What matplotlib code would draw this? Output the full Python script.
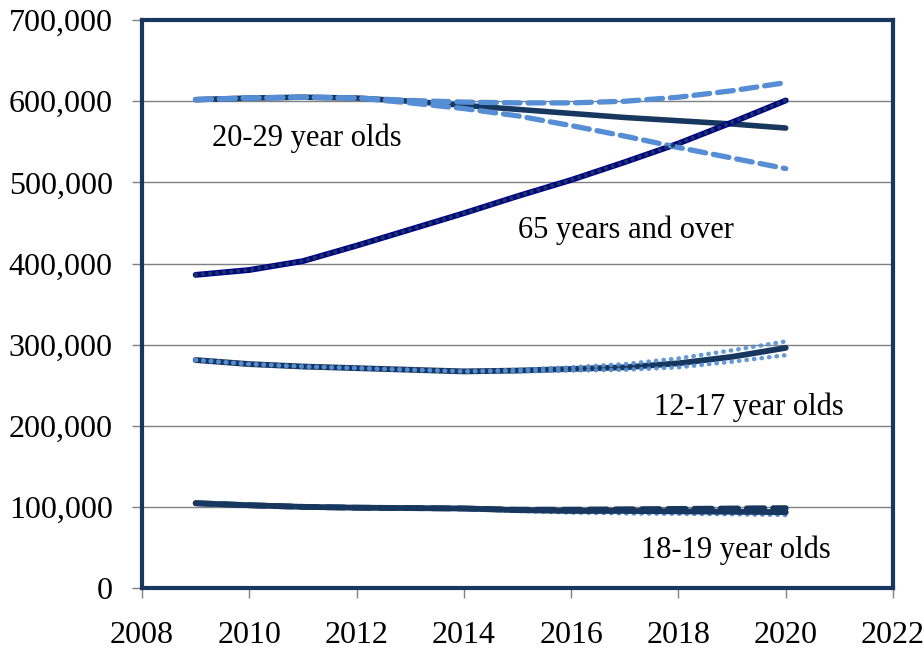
import matplotlib
matplotlib.use("Agg")
import matplotlib.pyplot as plt
from matplotlib.ticker import FuncFormatter

years = [2009, 2010, 2011, 2012, 2013, 2014, 2015, 2016, 2017, 2018, 2019, 2020]

age20_29 = [602000, 604000, 605000, 604000, 600000, 595000, 590000, 585000, 580000, 576000, 572000, 567000]
age20_29_high = [602000, 604000, 605000, 604000, 601000, 599000, 598000, 598000, 600000, 605000, 613000, 623000]
age20_29_low = [602000, 604000, 605000, 604000, 598000, 591000, 582000, 570000, 557000, 543000, 530000, 517000]

age65 = [386000, 392000, 403000, 422000, 442000, 462000, 483000, 503000, 525000, 548000, 574000, 601000]

age12_17 = [281000, 276000, 273000, 271000, 269000, 267000, 268000, 270000, 272000, 277000, 285000, 296000]
age12_17_high = [281000, 276000, 273000, 271000, 269000, 267000, 269000, 272000, 276000, 283000, 293000, 304000]
age12_17_low = [281000, 276000, 273000, 271000, 269000, 267000, 267000, 268000, 269000, 272000, 279000, 287000]

age18_19 = [104500, 102000, 100000, 99000, 98500, 98000, 96000, 95000, 95000, 94500, 94000, 93500]
age18_19_high = [104500, 102000, 100000, 99000, 98500, 98000, 96500, 96500, 97000, 97500, 98000, 98500]
age18_19_low = [104500, 102000, 100000, 99000, 98500, 97500, 95000, 93000, 92000, 91500, 91000, 90000]

labels = ["20-29 year olds", "65 years and over", "12-17 year olds", "18-19 year olds"]
label_pos = [(2009.3, 555000), (2015.0, 441000), (2017.55, 223000), (2017.3, 47000)]

dark = "#17375E"
light = "#558ED5"
navy = "#00008B"

fig = plt.figure(figsize=(9.24, 6.5), dpi=100)
ax = fig.add_axes([0.1537, 0.0954, 0.8128, 0.8736])

ax.set_xlim(2008, 2022)
ax.set_ylim(0, 700000)
ax.set_xticks(range(2008, 2023, 2))
ax.set_yticks(range(0, 700001, 100000))
ax.yaxis.set_major_formatter(FuncFormatter(lambda v, p: f"{int(v):,}"))
ax.grid(axis="y", color="#808080", linewidth=1.0)
ax.set_axisbelow(True)

# 20-29
ax.plot(years, age20_29, color=dark, lw=4, solid_capstyle="round", zorder=3)
ax.plot(years, age20_29_high, color=light, lw=3.8, ls=(0, (3, 1.5)), dash_capstyle="round", zorder=4)
ax.plot(years, age20_29_low, color=light, lw=3.8, ls=(0, (3, 1.5)), dash_capstyle="round", zorder=4)

# 65+
ax.plot(years, age65, color=navy, lw=4.2, solid_capstyle="round", zorder=3)
ax.plot(years, age65, color=dark, lw=3, ls=(0, (0.1, 1.6)), dash_capstyle="round", zorder=4)

# 12-17
ax.plot(years, age12_17, color=dark, lw=4.2, solid_capstyle="round", zorder=3)
ax.plot(years, age12_17_high, color=light, lw=3.2, ls=(0, (0.1, 1.6)), dash_capstyle="round", zorder=4, alpha=0.9)
ax.plot(years, age12_17_low, color=light, lw=3.2, ls=(0, (0.1, 1.6)), dash_capstyle="round", zorder=4, alpha=0.9)

# 18-19
ax.plot(years, age18_19_low, color=light, lw=3.2, ls=(0, (0.1, 1.6)), dash_capstyle="round", zorder=3)
ax.plot(years, age18_19, color=dark, lw=4.2, solid_capstyle="round", zorder=4)
ax.plot(years, age18_19_high, color=dark, lw=4.2, ls=(0, (3, 1.5)), dash_capstyle="round", zorder=4)

for txt, (x, y) in zip(labels, label_pos):
    ax.text(x, y, txt, fontsize=22, family="Liberation Serif", ha="left", va="center")

for s in ax.spines.values():
    s.set_color(dark)
    s.set_linewidth(3)

ax.tick_params(axis="both", which="major", direction="out", length=7, color="#808080",
               width=1, labelsize=23)
ax.tick_params(axis="x", pad=17)
ax.tick_params(axis="y", pad=14)
for lab in ax.get_xticklabels() + ax.get_yticklabels():
    lab.set_family("Liberation Serif")

fig.savefig("out.png", dpi=100)
